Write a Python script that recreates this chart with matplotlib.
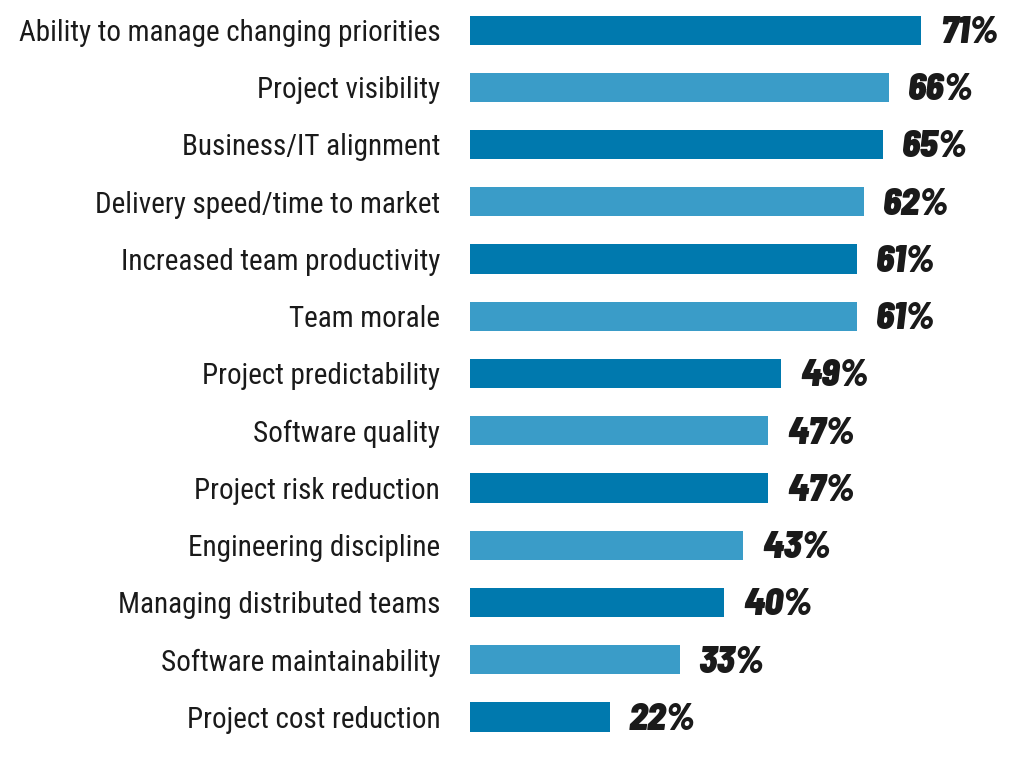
import matplotlib
matplotlib.use("Agg")
import matplotlib.pyplot as plt

categories = [
    "Ability to manage changing priorities",
    "Project visibility",
    "Business/IT alignment",
    "Delivery speed/time to market",
    "Increased team productivity",
    "Team morale",
    "Project predictability",
    "Software quality",
    "Project risk reduction",
    "Engineering discipline",
    "Managing distributed teams",
    "Software maintainability",
    "Project cost reduction",
]
values = [71, 66, 65, 62, 61, 61, 49, 47, 47, 43, 40, 33, 22]

DARK = "#0079AE"
LIGHT = "#3A9CC8"
colors = [DARK if i % 2 == 0 else LIGHT for i in range(len(values))]

# condensed faces, closest to the original print look
label_font = ["Roboto Condensed", "Archivo Narrow", "DejaVu Sans"]
value_font = ["Barlow Semi Condensed", "Barlow Condensed", "DejaVu Sans"]

fig = plt.figure(figsize=(10.23, 7.6), dpi=100)
ax = fig.add_axes([470 / 1023, 0.019, 553 / 1023, 0.979])

ypos = list(range(len(values)))
ax.barh(ypos, values, height=0.51, color=colors)
ax.set_xlim(0, 553 / 6.35)
ax.set_ylim(len(values) - 0.5, -0.5)

for y, cat, v in zip(ypos, categories, values):
    ax.text(-4.7, y + 0.05, cat, ha="right", va="center", fontsize=21,
            family=label_font, color="#1a1a1a")
    ax.text(v + 3.0, y + 0.05, f"{v}%", ha="left", va="center", fontsize=27,
            family=value_font, fontweight=900, fontstyle="italic",
            color="#1a1a1a")

ax.axis("off")
fig.savefig("out.png", dpi=100, facecolor="white")
